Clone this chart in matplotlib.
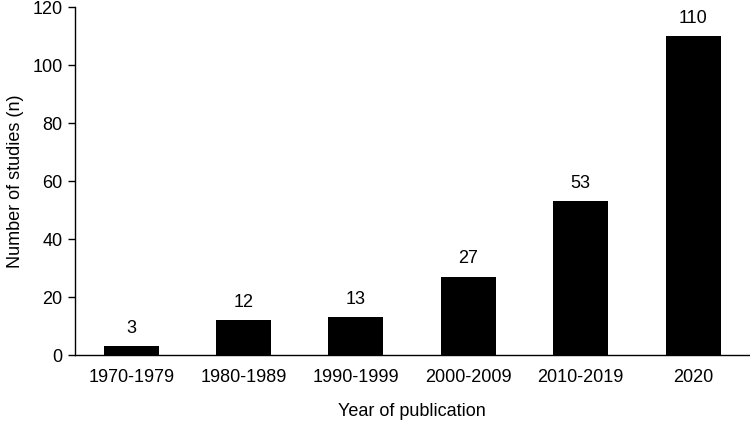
import matplotlib
matplotlib.use("Agg")
import matplotlib.pyplot as plt

periods = ["1970-1979", "1980-1989", "1990-1999", "2000-2009", "2010-2019", "2020"]
counts = [3, 12, 13, 27, 53, 110]

plt.rcParams["font.family"] = ["Liberation Sans", "DejaVu Sans"]
FS = 13

fig = plt.figure(figsize=(7.5, 4.25), dpi=100)
ax = fig.add_axes([0.1, 0.1647, 0.899, 0.818])

x = range(len(periods))
ax.bar(x, counts, width=0.49, color="black")
for xi, v in zip(x, counts):
    ax.annotate(str(v), (xi, v), xytext=(0, 7), textcoords="offset points",
                ha="center", va="bottom", fontsize=FS)

ax.set_xlim(-0.5, len(periods) - 0.5)
ax.set_ylim(0, 120)
ax.set_yticks(range(0, 121, 20))
ax.set_xticks(list(x))
ax.set_xticklabels(periods)
ax.tick_params(axis="x", length=0, pad=10, labelsize=FS)
ax.tick_params(axis="y", length=5, width=1, pad=4, labelsize=FS)
for s in ("top", "right"):
    ax.spines[s].set_visible(False)
for s in ("left", "bottom"):
    ax.spines[s].set_linewidth(1.0)
ax.set_xlabel("Year of publication", fontsize=FS, labelpad=12)
ax.set_ylabel("Number of studies (n)", fontsize=FS, labelpad=6)

fig.savefig("out.png", dpi=100)
